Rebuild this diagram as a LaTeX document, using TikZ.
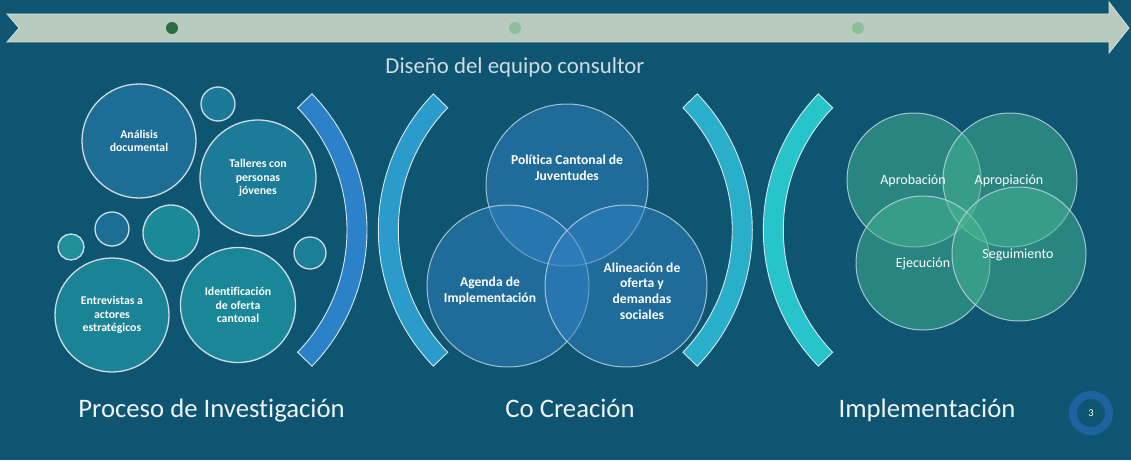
\documentclass[tikz,border=0pt]{standalone}
\usepackage{fontspec}
\setmainfont{Carlito}[Ligatures=NoCommon]
\definecolor{bg}{HTML}{0D5570}
\definecolor{band}{HTML}{B9CBBE}
\definecolor{bandline}{HTML}{D5E0D8}
\definecolor{dotdark}{HTML}{2E6B40}
\definecolor{dotlight}{HTML}{8EBF9B}
\definecolor{bubline}{HTML}{D0DCE2}
\definecolor{cA}{HTML}{1D6E96}
\definecolor{cB}{HTML}{1B7B98}
\definecolor{cC}{HTML}{1B8396}
\definecolor{cD}{HTML}{1A8798}
\definecolor{cE}{HTML}{1B8A98}
\definecolor{cF}{HTML}{1B7A98}
\definecolor{cG}{HTML}{1F8F9A}
\definecolor{cH}{HTML}{1B6F93}
\definecolor{cI}{HTML}{1B7F99}
\definecolor{arcline}{HTML}{D8E6EE}
\definecolor{arcA}{HTML}{2B82C8}
\definecolor{arcB}{HTML}{2A9BCB}
\definecolor{arcC}{HTML}{2AAFCA}
\definecolor{arcD}{HTML}{27C4CB}
\definecolor{vennblue}{HTML}{3282C4}
\definecolor{venngreen}{HTML}{46B690}
\definecolor{vennline}{HTML}{C8D8E4}
\definecolor{ring}{HTML}{1F62A0}
\definecolor{titletext}{HTML}{D0DCE6}
\definecolor{bigtext}{HTML}{F0F4F8}
\newcommand\bracketarc[4]{%
  \path[fill=#2, draw=arcline, line width=0.9pt]
    ([shift={(#1,230)}]#3:196) arc[start angle=#3, end angle=#4, radius=196]
    -- ([shift={(#1,230)}]#4:176) arc[start angle=#4, end angle=#3, radius=176] -- cycle;}
\tikzset{
  bubble/.style={circle, draw=bubline, line width=1.3pt, inner sep=0pt, minimum size=#1,
    text=white, align=center, font=\fontsize{11.8}{13.5}\selectfont\bfseries},
  dotmark/.style={circle, inner sep=0pt, minimum size=12pt},
  vennb/.style={circle, inner sep=0pt, minimum size=162pt, fill=vennblue, fill opacity=0.5,
    draw=vennline, draw opacity=0.8, line width=1pt},
  venng/.style={circle, inner sep=0pt, minimum size=134pt, fill=venngreen, fill opacity=0.5,
    draw=vennline, draw opacity=0.8, line width=1pt},
  midtxt/.style={text=white, align=center, font=\fontsize{13.6}{15.7}\selectfont\bfseries},
  righttxt/.style={text=white, align=center, font=\fontsize{14}{16}\selectfont},
  biglbl/.style={text=bigtext, anchor=base, font=\fontsize{26.7}{30}\selectfont},
}
\begin{document}
\begin{tikzpicture}[x=1pt,y=-1pt]
\path[use as bounding box, fill=bg] (0,0) rectangle (1131,460);
% timeline
\path[fill=band, draw=bandline, line width=0.8pt] (7,14) -- (1109,14) -- (1109,2) -- (1129,28)
  -- (1109,53) -- (1109,42) -- (7,42) -- (19,28) -- cycle;
\node[dotmark, fill=dotdark] (d1) at (172,28) {};
\node[dotmark, fill=dotlight] (d2) at (515,28) {};
\node[dotmark, fill=dotlight] (d3) at (858,28) {};
\node[text=titletext, anchor=base, font=\fontsize{22.8}{26}\selectfont] (title) at (515,74) {Diseño del equipo consultor};
% left bubbles
\node[bubble=114pt, fill=cA] (ana) at (139,141) {Análisis\\documental};
\node[bubble=116pt, fill=cB] (tal) at (258,178) {Talleres con\\personas\\jóvenes};
\node[bubble=114pt, fill=cC] (ent) at (112,315) {Entrevistas a\\actores\\estratégicos};
\node[bubble=115pt, fill=cD] (ide) at (238,305) {Identificación\\de oferta\\cantonal};
\node[bubble=34pt, fill=cF] (s1) at (218,104) {};
\node[bubble=26pt, fill=cG] (s2) at (71,247) {};
\node[bubble=34pt, fill=cH] (s3) at (112,229) {};
\node[bubble=56pt, fill=cE] (s4) at (171,233) {};
\node[bubble=32pt, fill=cI] (s5) at (310,253) {};
% brackets
\bracketarc{171}{arcA}{-44}{44}
\bracketarc{574.3}{arcB}{136}{224}
\bracketarc{556.3}{arcC}{-44}{44}
\bracketarc{959.3}{arcD}{136}{224}
% middle venn
\node[vennb] (pol) at (567,185) {};
\node[vennb] (age) at (508,286) {};
\node[vennb] (ali) at (626,286) {};
\node[midtxt] (tpol) at (567,168) {Política Cantonal de\\Juventudes};
\node[midtxt] (tage) at (490,291) {Agenda de\\Implementación};
\node[midtxt] (tali) at (642,291) {Alineación de\\oferta y\\demandas\\sociales};
% right venn
\node[venng] (apr) at (914,180) {};
\node[venng] (apo) at (1010,180) {};
\node[venng] (eje) at (923,263) {};
\node[venng] (seg) at (1019,254) {};
\node[righttxt] (tapr) at (913,181) {Aprobación};
\node[righttxt] (tapo) at (1009,181) {Apropiación};
\node[righttxt] (teje) at (923,264) {Ejecución};
\node[righttxt] (tseg) at (1018,255) {Seguimiento};
% labels
\node[biglbl] (l1) at (211.5,417) {Proceso de Investigación};
\node[biglbl] (l2) at (570,417) {Co Creación};
\node[biglbl] (l3) at (927,417) {Implementación};
% page number
\node[circle, draw=ring, line width=8pt, minimum size=36pt, inner sep=0pt, text=white,
  font=\fontsize{10.5}{12}\selectfont] (pg) at (1091,413) {3};
\end{tikzpicture}
\end{document}
